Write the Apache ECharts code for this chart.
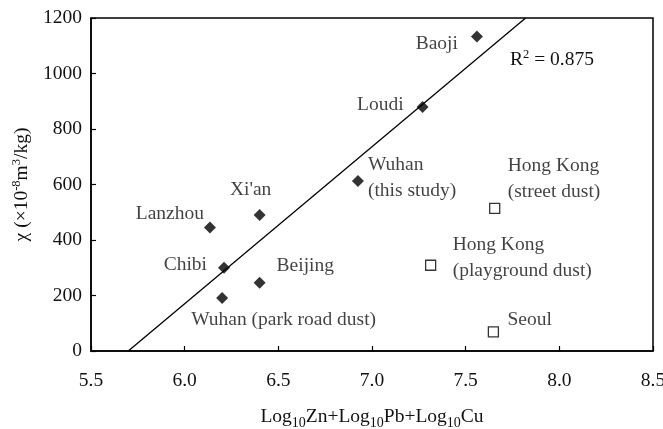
<!DOCTYPE html>
<html>
<head>
<meta charset="utf-8">
<script src="https://cdn.jsdelivr.net/npm/echarts@6/dist/echarts.min.js"></script>
<style>
  html, body { margin: 0; padding: 0; background: #fff; }
  #chart { width: 663px; height: 429px; }
</style>
</head>
<body>
<div id="chart"></div>
<script>
// Cities on the regression (filled diamonds)
const fitNames = ['Baoji', 'Loudi', 'Wuhan\n(this study)', "Xi'an", 'Lanzhou', 'Chibi', 'Beijing', 'Wuhan (park road dust)'];
const fitX = [7.56, 7.27, 6.925, 6.40, 6.135, 6.21, 6.40, 6.20];
const fitY = [1133, 879, 613, 490, 445, 300, 246, 191];

// Other cities (open squares)
const otherNames = ['Hong Kong\n(street dust)', 'Hong Kong\n(playground dust)', 'Seoul'];
const otherX = [7.655, 7.313, 7.648];
const otherY = [514, 309, 69];

// Regression line end points and fit quality
const lineX = [5.699, 7.82];
const lineY = [0, 1200];
const rSquared = '0.875';

// Axis ticks
const xTicks = [5.5, 6.0, 6.5, 7.0, 7.5, 8.0, 8.5];
const yTicks = [0, 200, 400, 600, 800, 1000, 1200];

// Label anchor relative to the marker centre: [dx, dy, align]
const fitLabelPlace = [
  [-19, 7, 'right'],
  [-19, -2, 'right'],
  [10, -3, 'left'],
  [-9, -25, 'center'],
  [-6, -14, 'right'],
  [-17, -3, 'right'],
  [17, -17, 'left'],
  [-31, 22, 'left']
];
const otherLabelPlace = [
  [13, -29, 'left'],
  [22, -7, 'left'],
  [14, -12, 'left']
];

const FONT = '"Liberation Serif", "DejaVu Serif", serif';
const INK = '#111';
const MARK = '#000';
const FS = 19.5;

function pointData(names, xs, ys, place) {
  return names.map((n, i) => ({
    name: n,
    value: [xs[i], ys[i]],
    label: {
      show: true,
      position: 'inside',
      formatter: '{b}',
      align: place[i][2],
      verticalAlign: 'middle',
      offset: [place[i][0], place[i][1]],
      fontFamily: FONT,
      fontSize: FS,
      color: INK,
      lineHeight: 26
    }
  }));
}

// Rich styles: normal text with superscripts
const supRich = {
  n: { fontFamily: FONT, fontSize: FS, color: INK, lineHeight: 24 },
  p: { fontFamily: FONT, fontSize: 12.5, color: INK, verticalAlign: 'top', lineHeight: 12 }
};
// Rich styles: normal text with subscripts
const subRich = {
  n: { fontFamily: FONT, fontSize: FS, color: INK, lineHeight: 26 },
  s: { fontFamily: FONT, fontSize: 14, color: INK, verticalAlign: 'bottom', lineHeight: 14 }
};

const chart = echarts.init(document.getElementById('chart'), null, { renderer: 'canvas' });

chart.setOption({
  animation: false,
  backgroundColor: '#fff',
  grid: {
    left: 91, right: 10, top: 18, bottom: 78,
    containLabel: false,
    outerBoundsMode: 'none',
    show: true, borderColor: MARK, borderWidth: 1.5, backgroundColor: 'transparent'
  },
  xAxis: {
    type: 'value',
    min: xTicks[0], max: xTicks[xTicks.length - 1], interval: 0.5,
    axisLine: { show: true, lineStyle: { color: MARK, width: 1.5 } },
    axisTick: { show: true, inside: true, length: 5, lineStyle: { color: MARK, width: 1.2 } },
    splitLine: { show: false },
    axisLabel: {
      margin: 20, fontFamily: FONT, fontSize: FS, color: INK,
      formatter: v => v.toFixed(1),
      showMinLabel: true, showMaxLabel: true
    },
    name: '{n|Log}{s|10}{n|Zn+Log}{s|10}{n|Pb+Log}{s|10}{n|Cu}',
    nameLocation: 'middle',
    nameGap: 53,
    nameTextStyle: { rich: subRich }
  },
  yAxis: {
    type: 'value',
    min: yTicks[0], max: yTicks[yTicks.length - 1], interval: 200,
    axisLine: { show: true, lineStyle: { color: MARK, width: 1.5 } },
    axisTick: { show: true, inside: true, length: 5, lineStyle: { color: MARK, width: 1.2 } },
    splitLine: { show: false },
    axisLabel: { margin: 9, fontFamily: FONT, fontSize: FS, color: INK, formatter: v => String(v) },
    name: '{n|χ (×10}{p|-8}{n|m}{p|3}{n|/kg)}',
    nameLocation: 'middle',
    nameRotate: 90,
    nameGap: 35,
    nameTextStyle: { rich: supRich }
  },
  series: [
    {
      type: 'line',
      data: lineX.map((x, i) => [x, lineY[i]]),
      symbol: 'none',
      lineStyle: { color: MARK, width: 1.3 },
      silent: true,
      z: 1
    },
    {
      type: 'scatter',
      symbol: 'diamond',
      symbolSize: 12,
      itemStyle: { color: MARK },
      data: pointData(fitNames, fitX, fitY, fitLabelPlace),
      z: 3
    },
    {
      type: 'scatter',
      symbol: 'rect',
      symbolSize: 10,
      itemStyle: { color: '#fff', borderColor: MARK, borderWidth: 1.3 },
      data: pointData(otherNames, otherX, otherY, otherLabelPlace),
      z: 3
    }
  ],
  graphic: [{
    // Coefficient of determination next to the fit line
    type: 'text',
    x: 510,
    y: 60,
    style: {
      text: '{n|R}{p|2}{n| = ' + rSquared + '}',
      verticalAlign: 'middle',
      rich: {
        n: { fontFamily: FONT, fontSize: FS, fill: INK, lineHeight: 24 },
        p: { fontFamily: FONT, fontSize: 12.5, fill: INK, verticalAlign: 'top', lineHeight: 12 }
      }
    }
  }]
});
</script>
</body>
</html>
